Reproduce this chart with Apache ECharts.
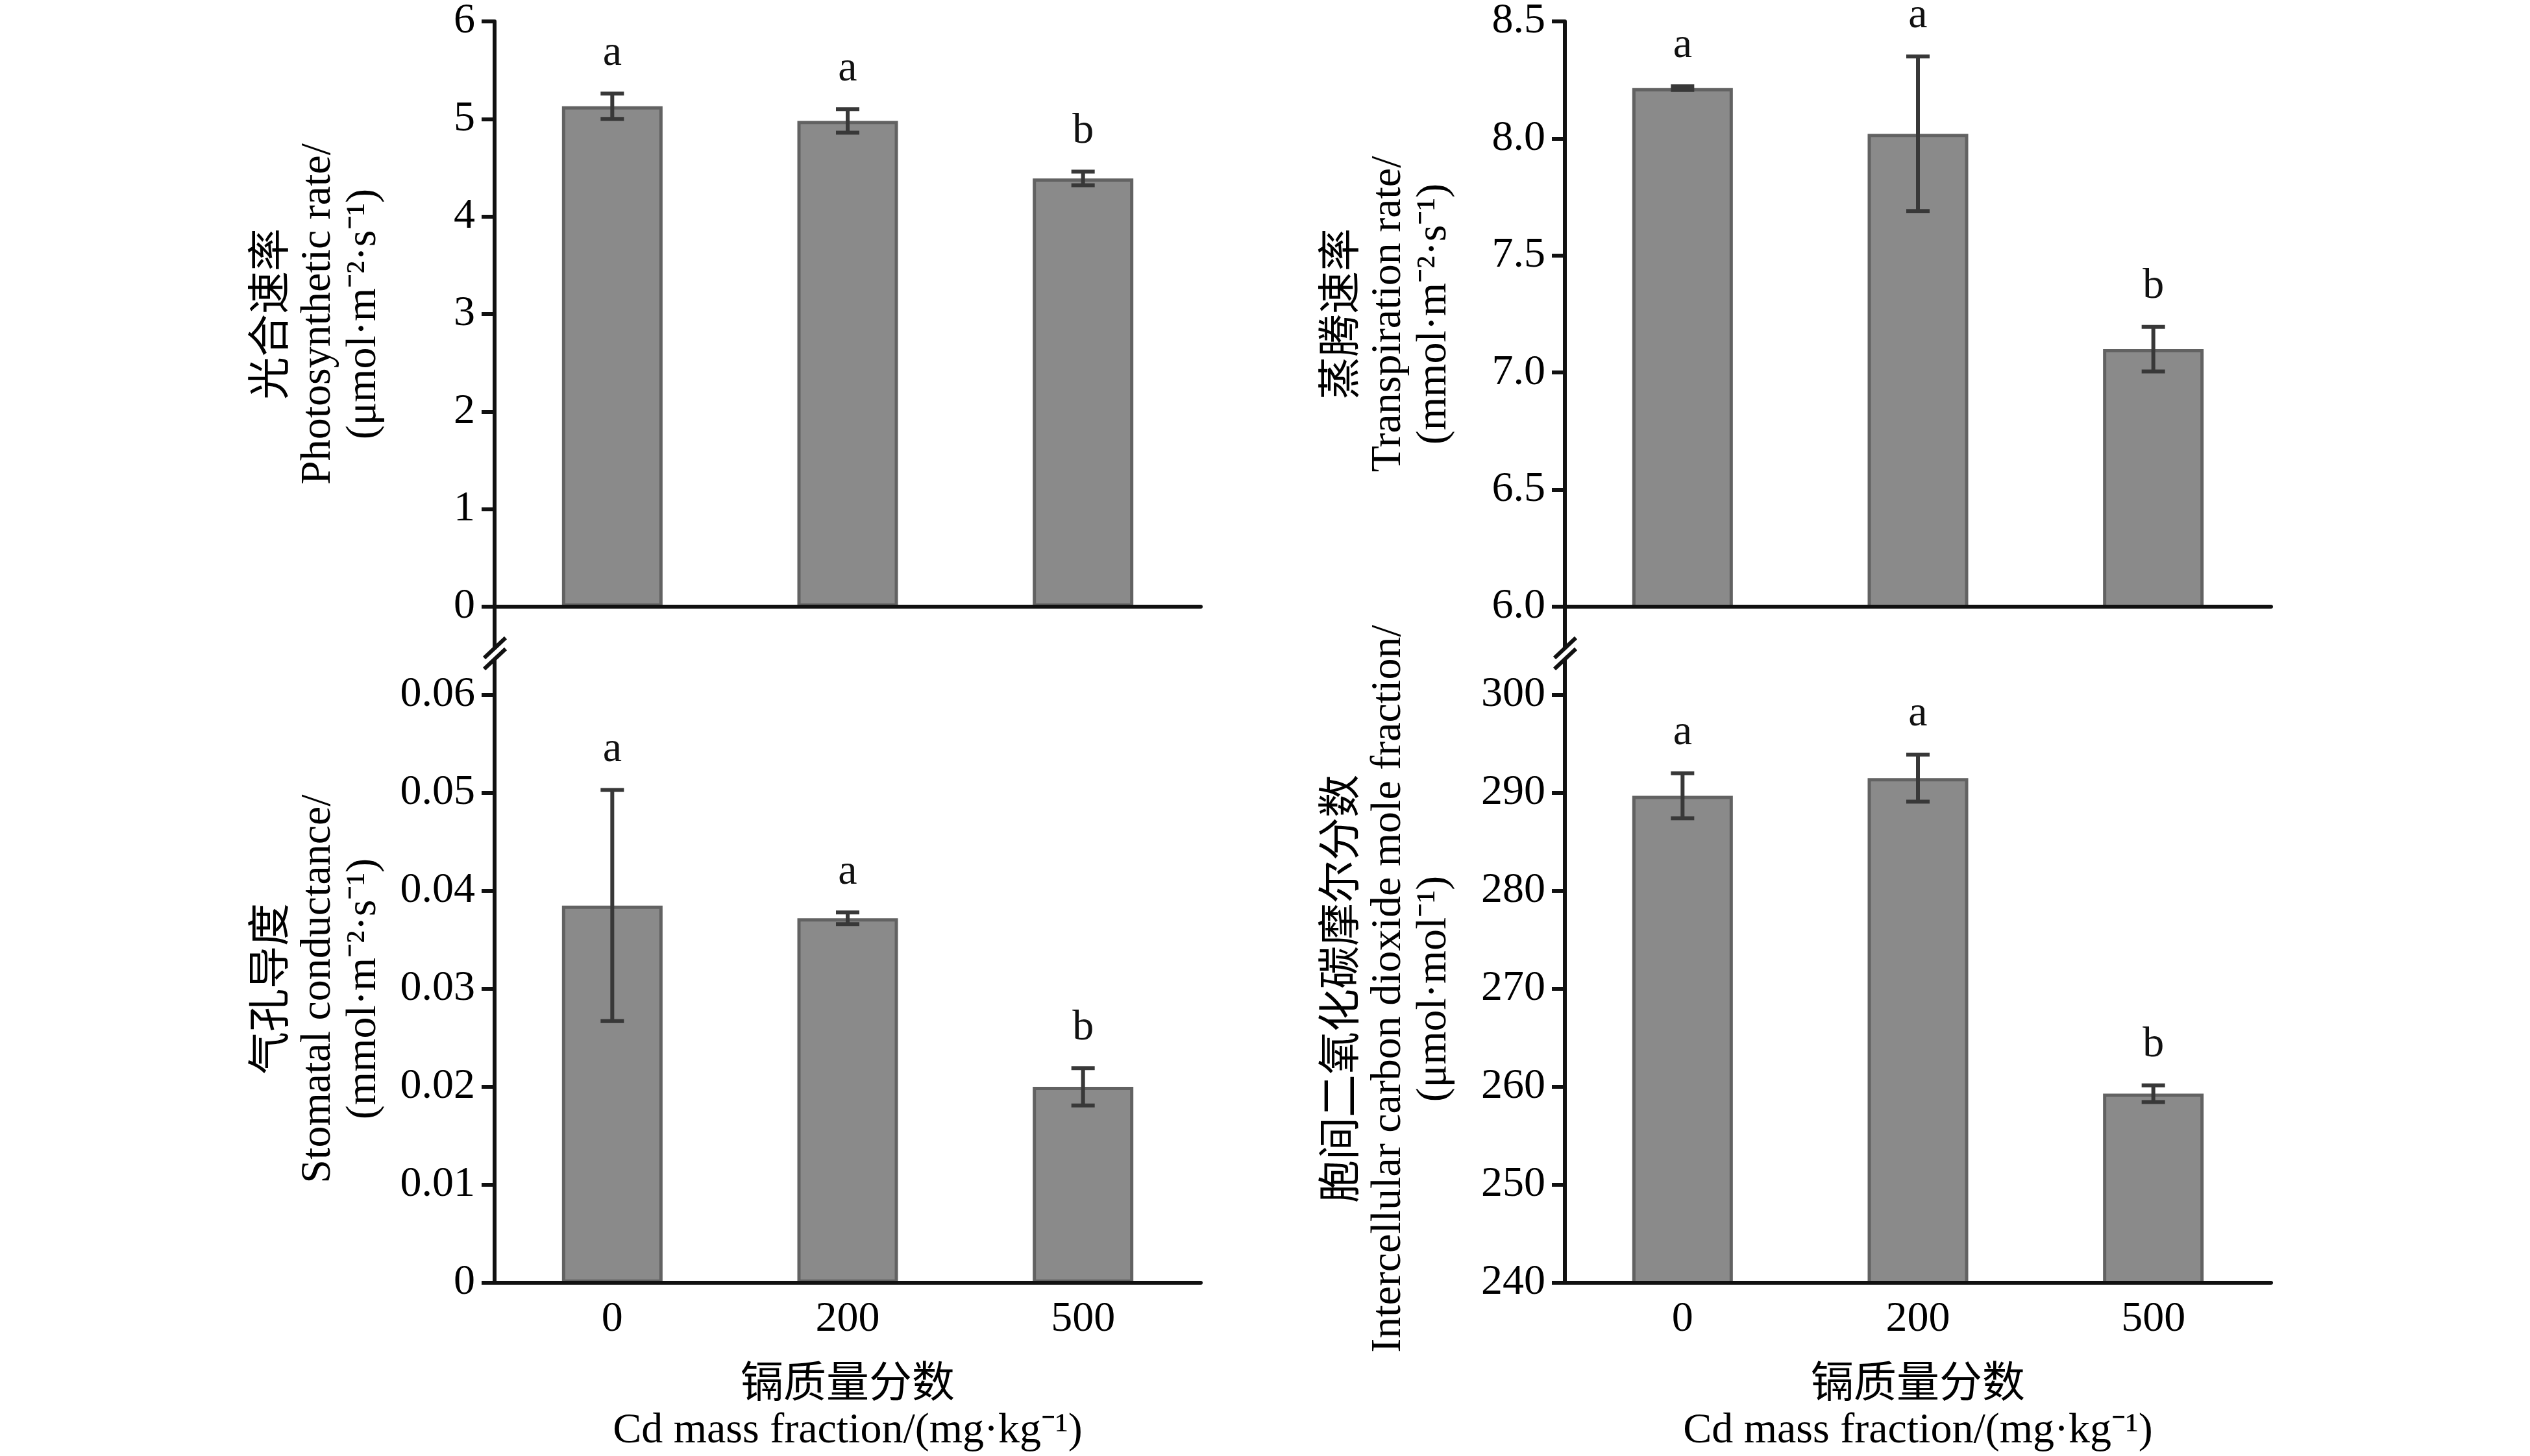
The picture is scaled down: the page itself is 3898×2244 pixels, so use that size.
<!DOCTYPE html>
<html>
<head>
<meta charset="utf-8">
<script src="https://cdn.jsdelivr.net/npm/echarts@6/dist/echarts.min.js"></script>
<style>
  html, body { margin:0; padding:0; background:#fff; }
  #chart { width:3898px; height:2244px; }
</style>
</head>
<body>
<div id="chart"></div>
<script>
const doses = ['0', '200', '500'];

// photosynthetic rate
const photoMean = [5.13, 4.98, 4.39];
const photoSd   = [0.13, 0.12, 0.07];
const photoSig  = ['a', 'a', 'b'];
// transpiration rate
const transMean = [8.215, 8.02, 7.10];
const transSd   = [0.008, 0.33, 0.095];
const transSig  = ['a', 'a', 'b'];
// stomatal conductance
const condMean = [0.0385, 0.0372, 0.0200];
const condSd   = [0.0118, 0.0006, 0.0019];
const condSig  = ['a', 'a', 'b'];
// intercellular CO2
const ciMean = [289.7, 291.5, 259.3];
const ciSd   = [2.3, 2.4, 0.85];
const ciSig  = ['a', 'a', 'b'];

// axis ranges [min, max, interval]
const photoAxis = [0, 6, 1];
const transAxis = [6, 8.5, 0.5];
const condAxis  = [0, 0.06, 0.01];
const ciAxis    = [240, 300, 10];

const FONT = '"Liberation Serif", "Noto Sans CJK SC", serif';
const FS = 66;

const LEFT_X = 762, RIGHT_X = 2411, W = 1088;
const TOP_Y = 29, BOT_Y = 1071, H = 906;
const BREAK_A = 999, BREAK_B = 1016;

const grids = [
  { left: LEFT_X,  top: TOP_Y, width: W, height: H },
  { left: RIGHT_X, top: TOP_Y, width: W, height: H },
  { left: LEFT_X,  top: BOT_Y, width: W, height: H },
  { left: RIGHT_X, top: BOT_Y, width: W, height: H }
];

const xName = '镉质量分数\nCd mass fraction/(mg·kg⁻¹)';

function makeX(i, showLabel) {
  return {
    type: 'category', gridIndex: i, data: doses, z: 5,
    axisLine: { lineStyle: { color: '#111', width: 6 } },
    axisTick: { show: false },
    axisLabel: { show: showLabel, color: '#000', fontFamily: FONT, fontSize: FS, margin: 24 },
    name: showLabel ? xName : '',
    nameLocation: 'middle', nameGap: 124,
    nameTextStyle: { color: '#000', fontFamily: FONT, fontSize: FS, lineHeight: 70 }
  };
}

function makeY(i, range, name, fmt) {
  return {
    type: 'value', gridIndex: i, min: range[0], max: range[1], interval: range[2], z: 5,
    splitLine: { show: false },
    axisLine: { show: true, lineStyle: { color: '#111', width: 6 } },
    axisTick: { show: true, length: 20, lineStyle: { color: '#111', width: 6 } },
    axisLabel: { color: '#000', fontFamily: FONT, fontSize: FS, margin: 30, formatter: fmt },
    name: name, nameLocation: 'middle', nameRotate: 90, nameGap: 166,
    nameTextStyle: { color: '#000', fontFamily: FONT, fontSize: FS, lineHeight: 70 }
  };
}

function barSeries(i, mean) {
  return {
    type: 'bar', xAxisIndex: i, yAxisIndex: i, data: mean, barWidth: 155,
    itemStyle: { color: '#8a8a8a', borderColor: '#626262', borderWidth: 5 },
    clip: true, z: 2
  };
}

function errSeries(i, mean, sd, sig) {
  return {
    type: 'custom', xAxisIndex: i, yAxisIndex: i, clip: false, z: 4,
    data: mean.map((m, k) => [k, m, sd[k]]),
    renderItem: function (params, api) {
      const k = api.value(0), m = api.value(1), s = api.value(2);
      const hi = api.coord([k, m + s]);
      const lo = api.coord([k, m - s]);
      const cap = 18;
      const st = { stroke: '#383838', lineWidth: 6 };
      return {
        type: 'group',
        children: [
          { type: 'line', shape: { x1: hi[0], y1: hi[1], x2: lo[0], y2: lo[1] }, style: st },
          { type: 'line', shape: { x1: hi[0] - cap, y1: hi[1], x2: hi[0] + cap, y2: hi[1] }, style: st },
          { type: 'line', shape: { x1: lo[0] - cap, y1: lo[1], x2: lo[0] + cap, y2: lo[1] }, style: st },
          { type: 'text', x: hi[0], y: hi[1] - 62,
            style: { text: sig[params.dataIndex], fill: '#111', font: FS + 'px ' + FONT,
                     textAlign: 'center', textVerticalAlign: 'middle' } }
        ]
      };
    }
  };
}

// axis breaks between the upper and lower panels
const lineSt = { stroke: '#111', lineWidth: 6 };
const graphics = [];
[LEFT_X, RIGHT_X].forEach(x => {
  graphics.push({ type: 'line', shape: { x1: x, y1: TOP_Y + H, x2: x, y2: BREAK_A }, style: lineSt });
  graphics.push({ type: 'line', shape: { x1: x, y1: BREAK_B, x2: x, y2: BOT_Y }, style: lineSt });
  [BREAK_A, BREAK_B].forEach(y => {
    graphics.push({ type: 'line', shape: { x1: x - 16, y1: y + 15, x2: x + 17, y2: y - 16 }, style: lineSt });
  });
});

const chart = echarts.init(document.getElementById('chart'));
chart.setOption({
  backgroundColor: '#fff',
  animation: false,
  grid: grids,
  xAxis: [makeX(0, false), makeX(1, false), makeX(2, true), makeX(3, true)],
  yAxis: [
    makeY(0, photoAxis, '光合速率\nPhotosynthetic rate/\n(μmol·m⁻²·s⁻¹)'),
    makeY(1, transAxis, '蒸腾速率\nTranspiration rate/\n(mmol·m⁻²·s⁻¹)', v => v.toFixed(1)),
    makeY(2, condAxis, '气孔导度\nStomatal conductance/\n(mmol·m⁻²·s⁻¹)'),
    makeY(3, ciAxis, '胞间二氧化碳摩尔分数\nIntercellular carbon dioxide mole fraction/\n(μmol·mol⁻¹)')
  ],
  series: [
    barSeries(0, photoMean), errSeries(0, photoMean, photoSd, photoSig),
    barSeries(1, transMean), errSeries(1, transMean, transSd, transSig),
    barSeries(2, condMean),  errSeries(2, condMean, condSd, condSig),
    barSeries(3, ciMean),    errSeries(3, ciMean, ciSd, ciSig)
  ],
  graphic: graphics
});
</script>
</body>
</html>
